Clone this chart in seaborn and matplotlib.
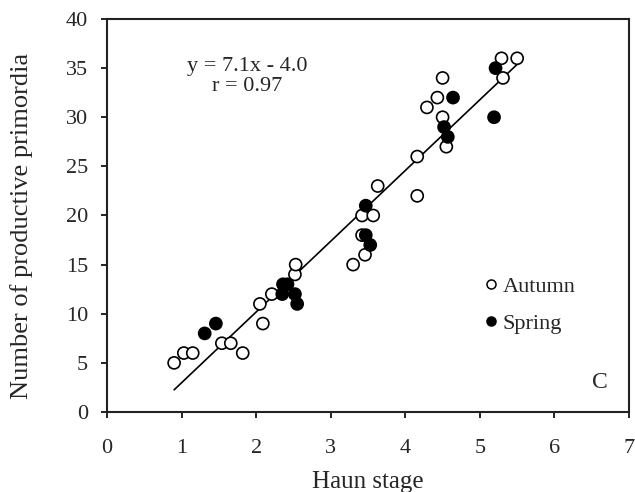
import matplotlib
matplotlib.use("Agg")
import matplotlib.pyplot as plt
import seaborn as sns
import pandas as pd
import numpy as np
from matplotlib.lines import Line2D

# Data
autumn_x = [0.90, 1.03, 1.15, 1.54, 1.66, 1.82, 2.05, 2.09, 2.21, 2.52, 2.53, 3.30, 3.46,
            3.42, 3.42, 3.57, 3.63, 4.16, 4.16, 4.29, 4.43, 4.50, 4.50, 4.55, 5.29, 5.50, 5.31]
autumn_y = [5, 6, 6, 7, 7, 6, 11, 9, 12, 14, 15, 15, 16,
            18, 20, 20, 23, 22, 26, 31, 32, 34, 30, 27, 36, 36, 34]
spring_x = [1.31, 1.46, 2.35, 2.36, 2.42, 2.52, 2.55, 3.47, 3.47, 3.53, 4.52, 4.57, 4.64, 5.19, 5.21]
spring_y = [8, 9, 12, 13, 13, 12, 11, 18, 21, 17, 29, 28, 32, 30, 35]
seasons = ["Autumn", "Spring"]
x_ticks = [0, 1, 2, 3, 4, 5, 6, 7]
y_ticks = [0, 5, 10, 15, 20, 25, 30, 35, 40]
equation_text = "y = 7.1x - 4.0\nr = 0.97"
panel_label = "C"

df = pd.DataFrame({
    "Haun stage": autumn_x + spring_x,
    "Primordia": autumn_y + spring_y,
    "Season": [seasons[0]] * len(autumn_x) + [seasons[1]] * len(spring_x),
})

sns.set_style("white")
plt.rcParams["font.family"] = ["Liberation Serif", "DejaVu Serif"]

fig = plt.figure(figsize=(6.35, 4.92), dpi=100)
ax = fig.add_axes([0.1685, 0.1626, 0.8221, 0.7988])

# regression line (from the combined data)
sns.regplot(data=df, x="Haun stage", y="Primordia", scatter=False, ci=None,
            color="black", line_kws={"linewidth": 1.2}, ax=ax, truncate=True)

sns.scatterplot(data=df, x="Haun stage", y="Primordia", hue="Season",
                palette={"Autumn": "white", "Spring": "black"},
                edgecolor="black", linewidth=1.2, s=75, legend=False, ax=ax, zorder=3)

ax.set_xlim(0, 7)
ax.set_ylim(0, 40)
ax.set_xticks(x_ticks)
ax.set_yticks(y_ticks)
ax.tick_params(axis="both", direction="out", length=4.5, width=1.2, color="black",
               labelsize=16, bottom=True, left=True)
ax.tick_params(axis="x", pad=15)
ax.tick_params(axis="y", pad=9)
for s in ax.spines.values():
    s.set_color("#222222")
    s.set_linewidth(1.5)

ax.set_xlabel("Haun stage", fontsize=18, labelpad=9)
ax.set_ylabel("Number of productive primordia", fontsize=19)
ax.yaxis.set_label_coords(-0.142, 0.473)

ax.text(0.268, 0.853, equation_text, transform=ax.transAxes, fontsize=16,
        ha="center", va="center", linespacing=1.05)
ax.text(0.944, 0.076, panel_label, transform=ax.transAxes, fontsize=17,
        ha="center", va="center")

handles = [
    Line2D([], [], linestyle="", marker="o", markerfacecolor="white", markeredgecolor="black",
           markeredgewidth=1.1, markersize=6.5, label=seasons[0]),
    Line2D([], [], linestyle="", marker="o", markerfacecolor="black", markeredgecolor="black",
           markeredgewidth=1.1, markersize=6.5, label=seasons[1]),
]
ax.legend(handles=handles, loc="upper left", bbox_to_anchor=(0.716, 0.345), frameon=False,
          fontsize=16, handletextpad=0.1, handlelength=0.9, labelspacing=0.75, borderpad=0,
          borderaxespad=0)

fig.savefig("out.png", dpi=100)
